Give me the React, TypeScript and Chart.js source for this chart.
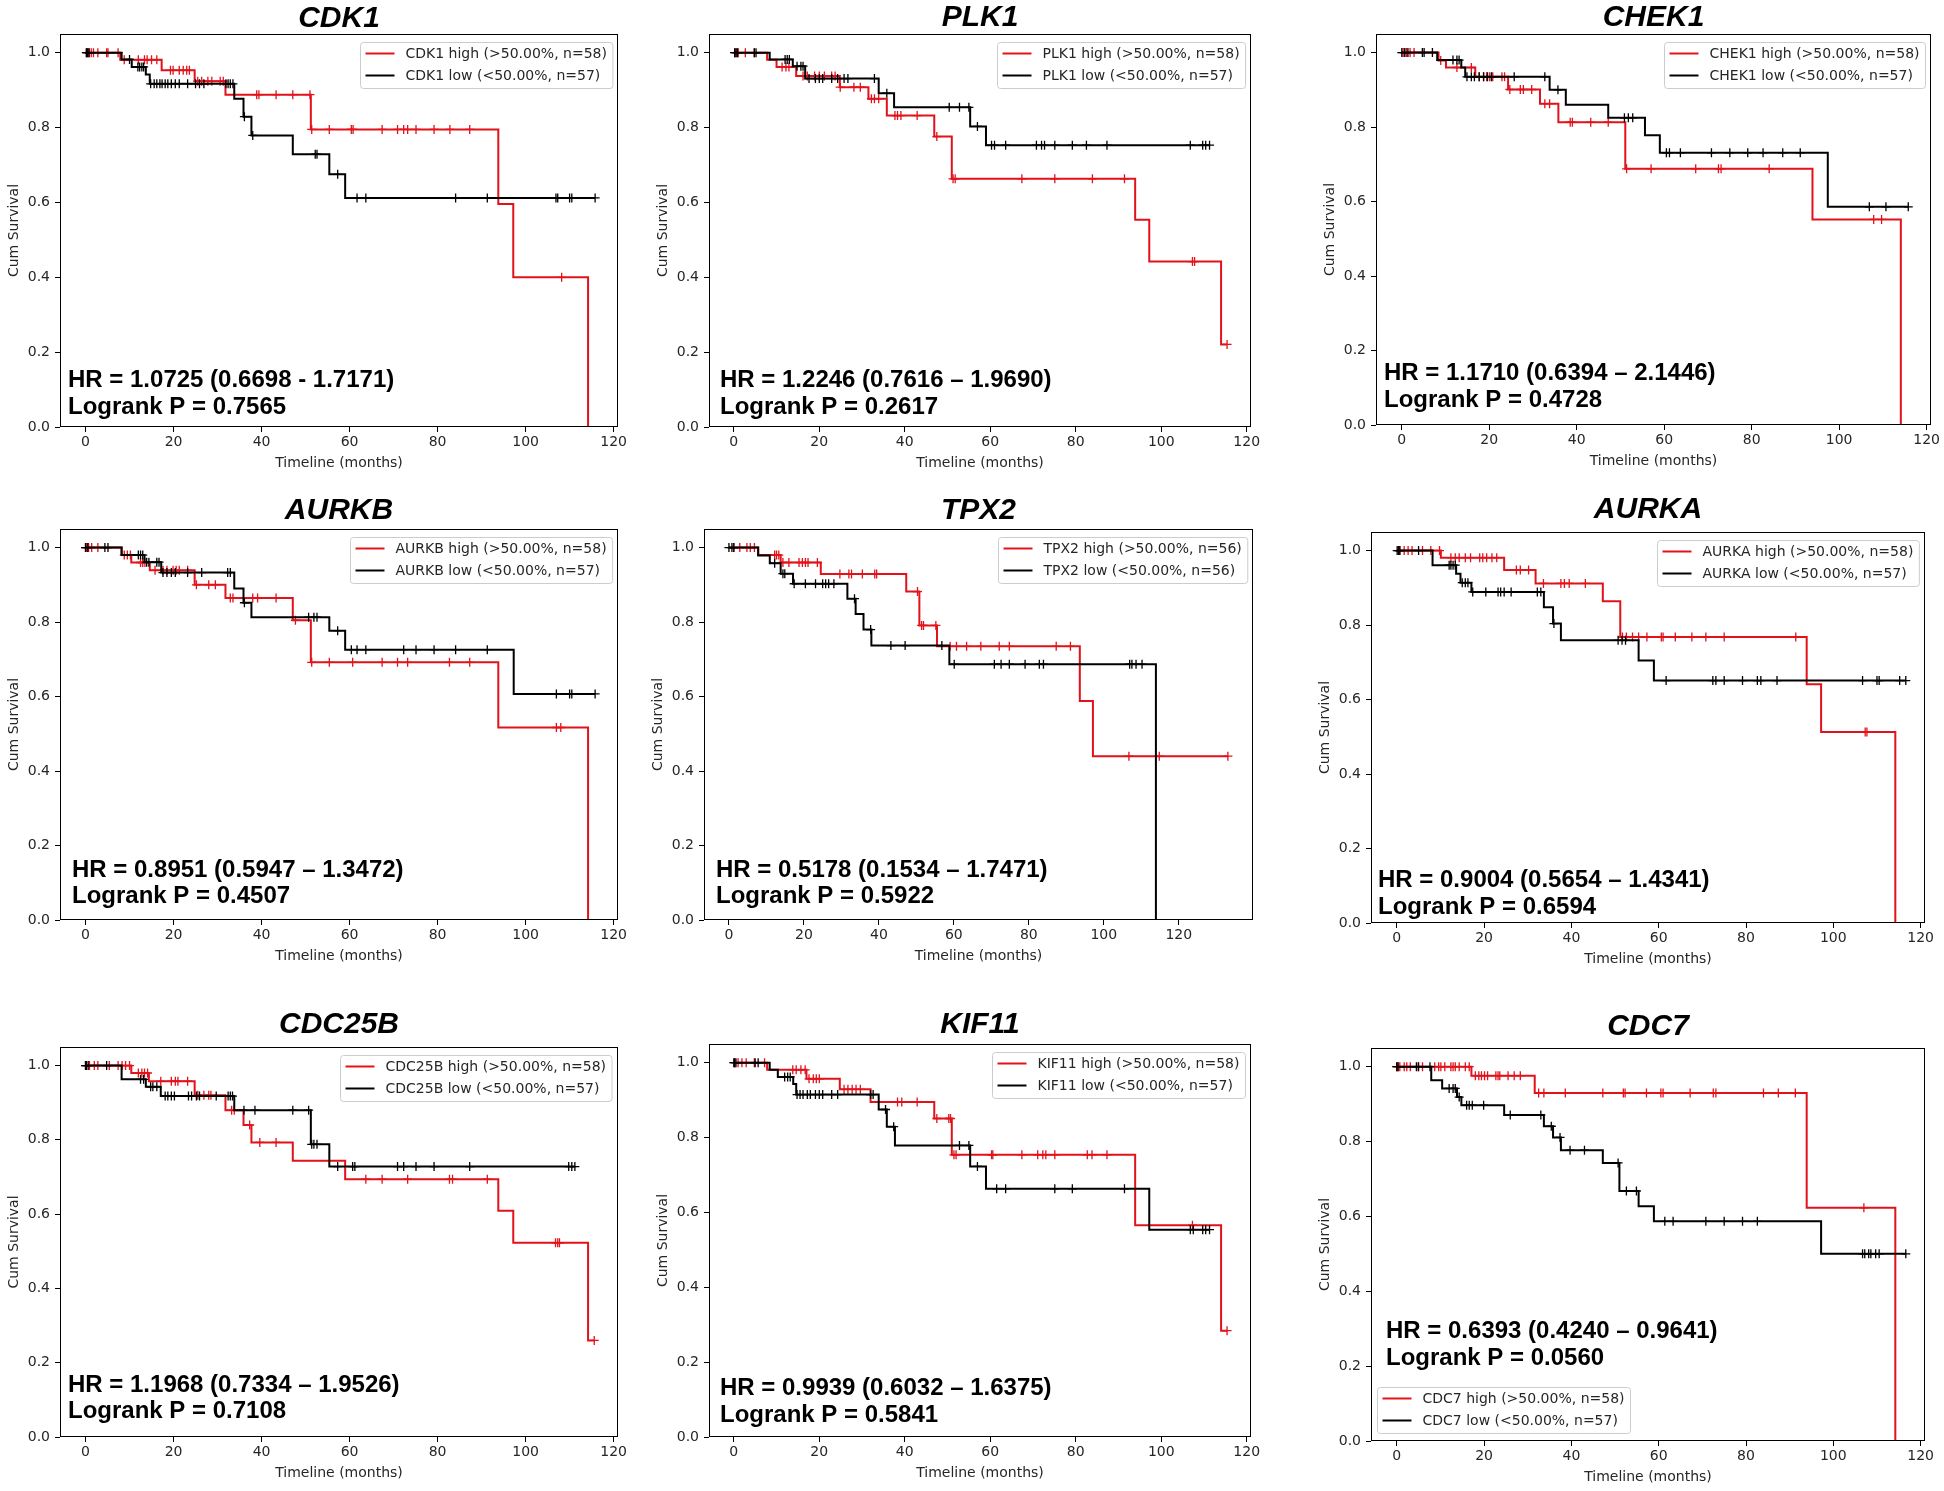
import React, { useEffect, useRef } from 'react';
import { Chart, registerables } from 'chart.js';

Chart.register(...registerables);

// ---------------- data ----------------
const GENES = ['CDK1', 'PLK1', 'CHEK1', 'AURKB', 'TPX2', 'AURKA', 'CDC25B', 'KIF11', 'CDC7'];
const N_HIGH = [58, 58, 58, 58, 56, 58, 58, 58, 58];
const N_LOW = [57, 57, 57, 57, 56, 57, 57, 57, 57];
const HR_LINES = [
  'HR = 1.0725 (0.6698 - 1.7171)',
  'HR = 1.2246 (0.7616 \u2013 1.9690)',
  'HR = 1.1710 (0.6394 \u2013 2.1446)',
  'HR = 0.8951 (0.5947 \u2013 1.3472)',
  'HR = 0.5178 (0.1534 \u2013 1.7471)',
  'HR = 0.9004 (0.5654 \u2013 1.4341)',
  'HR = 1.1968 (0.7334 \u2013 1.9526)',
  'HR = 0.9939 (0.6032 \u2013 1.6375)',
  'HR = 0.6393 (0.4240 \u2013 0.9641)',
];
const LOGRANK_LINES = [
  'Logrank P = 0.7565',
  'Logrank P = 0.2617',
  'Logrank P = 0.4728',
  'Logrank P = 0.4507',
  'Logrank P = 0.5922',
  'Logrank P = 0.6594',
  'Logrank P = 0.7108',
  'Logrank P = 0.5841',
  'Logrank P = 0.0560',
];
const X_TICKS = [0, 20, 40, 60, 80, 100, 120];
const Y_TICKS = [0, 0.2, 0.4, 0.6, 0.8, 1.0];

// event steps: [time (months), survival after the event]
const CDK1_HIGH_STEPS = [[7.9, 0.981], [17.3, 0.953], [24.8, 0.924], [31.8, 0.888], [51.2, 0.795], [93.8, 0.596], [97.2, 0.4], [114.2, 0]];
const CDK1_HIGH_CENSOR = [0.2, 0.5, 0.8, 1.3, 1.8, 2.8, 4.8, 5.1, 7.4, 8.8, 12, 13.4, 14, 15, 16.2, 19.3, 19.9, 21.3, 22.2, 23, 23.6, 25.5, 26.4, 27.8, 28.7, 30.6, 31.3, 38.9, 39.4, 43.3, 47.1, 51.0, 51.4, 55.4, 60.4, 60.8, 67.4, 70.9, 72.3, 73.2, 75.1, 79.2, 82.8, 87.3, 108.2];
const CDK1_LOW_STEPS = [[8.2, 0.982], [10.5, 0.962], [13.7, 0.942], [14.6, 0.917], [33.8, 0.877], [35.9, 0.829], [37.7, 0.779], [47.1, 0.729], [55.4, 0.675], [59.0, 0.612]];
const CDK1_LOW_CENSOR = [0.2, 0.5, 0.8, 10.0, 11.9, 12.3, 12.8, 13.2, 14.8, 15.6, 16.2, 16.9, 17.4, 18.1, 18.7, 19.5, 20.4, 21.3, 23.2, 25, 25.9, 26.9, 31.9, 32.4, 32.9, 33.5, 36.1, 38.0, 52.2, 52.6, 57.3, 61.7, 63.7, 84.1, 91.3, 106.9, 107.3, 110, 110.5, 115.8];

const PLK1_HIGH_STEPS = [[7.8, 0.981], [10.0, 0.962], [14.6, 0.9375], [24.8, 0.908], [31.5, 0.877], [35.8, 0.832], [46.9, 0.776], [51.0, 0.663], [93.9, 0.554], [97.2, 0.442], [114.0, 0.2205]];
const PLK1_HIGH_CENSOR = [0.2, 0.6, 1.0, 2.7, 4.8, 11.3, 12.2, 12.9, 16.2, 17.2, 18.9, 20, 21.2, 22.9, 23.7, 24.9, 28.1, 29.6, 32.2, 32.9, 33.9, 37.7, 38.3, 39.1, 42.9, 47.5, 51.3, 51.8, 67.4, 75.1, 83.9, 91.4, 107.3, 107.8, 115.4];
const PLK1_LOW_STEPS = [[8.4, 0.982], [13.8, 0.964], [16.7, 0.931], [33.9, 0.892], [37.5, 0.854], [55.3, 0.803], [59.0, 0.753]];
const PLK1_LOW_CENSOR = [0.2, 0.5, 0.9, 4.8, 5.2, 12, 12.5, 13, 14.8, 15.7, 16.2, 17.6, 19.1, 20, 20.8, 22.9, 24.3, 25.8, 26.7, 32.9, 35.8, 50.4, 52.8, 55.0, 57, 60.3, 61, 63.6, 70.8, 72, 72.7, 75.1, 79.2, 82.5, 87.3, 106.8, 109.7, 110.4, 111.3];

const CHEK1_HIGH_STEPS = [[8.4, 0.979], [10.1, 0.96], [16.8, 0.935], [24.3, 0.901], [31.6, 0.863], [35.8, 0.813], [51.1, 0.688], [93.9, 0.552], [114.1, 0]];
const CHEK1_HIGH_CENSOR = [0.3, 0.6, 1.1, 1.9, 2.8, 8.9, 12.6, 15.9, 17.7, 18.7, 19.4, 20.1, 20.8, 22.9, 23.5, 24.7, 27.1, 27.8, 29.7, 32.7, 33.8, 38.5, 39, 43.2, 47.2, 51.4, 57, 67.2, 72.4, 73, 84, 107.9, 109.7];
const CHEK1_LOW_STEPS = [[8.1, 0.98], [13.6, 0.96], [14.5, 0.935], [33.8, 0.9], [37.5, 0.86], [47.2, 0.825], [55.6, 0.778], [59.0, 0.731], [97.4, 0.586]];
const CHEK1_LOW_CENSOR = [0, 0.7, 1.4, 4.7, 5.1, 7, 11.7, 12.6, 13.1, 14.9, 15.9, 16.6, 17.7, 18.7, 19.6, 20.5, 25.7, 32.7, 35.7, 50.9, 51.8, 52.8, 60.5, 61.2, 63.7, 70.8, 75, 79.1, 82.6, 87.1, 91.1, 106.9, 110.7, 115.8];

const AURKB_HIGH_STEPS = [[8.2, 0.98], [10.4, 0.96], [14.6, 0.939], [24.8, 0.9], [31.8, 0.865], [47.1, 0.805], [51.2, 0.692], [93.8, 0.517], [114.2, 0]];
const AURKB_HIGH_CENSOR = [0, 0.2, 0.7, 1.4, 2.8, 8.8, 9.5, 10.2, 12.5, 13, 13.5, 15.8, 17.6, 18.5, 19.9, 20.6, 21.3, 23.2, 25.2, 28, 29.5, 32.9, 33.5, 38, 39.1, 43.3, 47.7, 51.4, 55.4, 60.7, 67.4, 70.9, 73.2, 82.7, 87.3, 107, 108];
const AURKB_LOW_STEPS = [[8.2, 0.98], [13.4, 0.961], [17.2, 0.933], [33.8, 0.89], [35.9, 0.852], [37.7, 0.813], [55.4, 0.777], [59.0, 0.726], [97.3, 0.607]];
const AURKB_LOW_CENSOR = [0, 0.5, 4.4, 5.1, 12, 12.5, 13, 13.9, 14.4, 16.2, 16.7, 17.6, 18.5, 19.5, 20.4, 23.2, 26.4, 32.3, 32.9, 36.1, 50.7, 51.9, 52.6, 57.3, 60.4, 61.7, 63.7, 72.3, 75.1, 79.2, 84.1, 91.3, 107, 110, 110.5, 115.8];

const TPX2_HIGH_STEPS = [[7.8, 0.98], [13.8, 0.96], [24.5, 0.929], [47.3, 0.882], [50.8, 0.791], [55.5, 0.735], [93.6, 0.588], [97.1, 0.44]];
const TPX2_HIGH_CENSOR = [1.3, 2.9, 4.8, 5.7, 6.8, 12.2, 12.7, 13.3, 14.4, 16, 18.7, 19.6, 20.4, 21.1, 23.6, 29.6, 32, 32.7, 35.6, 38.9, 39.4, 50.3, 51.4, 51.9, 55.2, 59, 60.7, 63.4, 67.2, 72.1, 74.8, 87.3, 91.1, 106.7, 114.8, 133.1];
const TPX2_LOW_STEPS = [[7.8, 0.979], [10.9, 0.958], [13.8, 0.93], [17.1, 0.903], [31.6, 0.863], [33.8, 0.822], [35.9, 0.78], [38.0, 0.737], [58.8, 0.687], [113.9, 0]];
const TPX2_LOW_CENSOR = [0, 0.8, 1.3, 12.2, 14.4, 14.9, 17.4, 20.4, 23.1, 25, 25.8, 26.6, 28, 33.5, 37.8, 43.2, 47, 56.8, 60.1, 70.8, 72.6, 74.8, 79, 82.8, 83.9, 106.9, 107.5, 108.6, 110.2];

const AURKA_HIGH_STEPS = [[10.1, 0.981], [24.6, 0.948], [31.8, 0.912], [47.2, 0.864], [51.2, 0.768], [93.9, 0.641], [97.2, 0.513], [114.2, 0]];
const AURKA_HIGH_CENSOR = [0.7, 1.7, 2.6, 3.5, 5.9, 7.8, 9.8, 12.4, 13.4, 14.3, 15.7, 16.9, 19, 19.7, 20.6, 21.8, 22.9, 27.4, 28.3, 30.2, 33.6, 37.6, 38.4, 39.5, 43.2, 51.7, 52.6, 54, 55.4, 57.3, 60.6, 61, 63.8, 67.6, 70.8, 75, 91.4, 107.3, 107.7];
const AURKA_LOW_STEPS = [[8.2, 0.961], [13.6, 0.938], [14.6, 0.914], [17.1, 0.889], [33.7, 0.848], [35.8, 0.804], [37.6, 0.759], [55.4, 0.705], [58.9, 0.651]];
const AURKA_LOW_CENSOR = [0.1, 0.4, 0.7, 5, 12, 12.4, 12.9, 13.4, 15, 15.7, 16.3, 17.4, 20.4, 23.2, 23.8, 24.6, 26.2, 32.2, 33, 36, 50.7, 51.6, 52.4, 61.7, 72.4, 73.1, 75, 79.2, 82.6, 83.4, 87.1, 106.7, 110, 110.5, 115.2, 116.6];

const CDC25B_HIGH_STEPS = [[10.4, 0.98], [14.4, 0.958], [24.8, 0.92], [31.8, 0.88], [35.9, 0.84], [37.7, 0.793], [47.1, 0.744], [59.0, 0.694], [93.8, 0.609], [97.2, 0.523], [114.2, 0.26]];
const CDC25B_HIGH_CENSOR = [0, 0.9, 2, 2.8, 5.4, 7.4, 8.3, 9.1, 10, 12, 12.8, 13.4, 14.1, 17.1, 19.5, 20.4, 21, 23.2, 25.5, 26.9, 28, 28.5, 33.2, 33.8, 37.3, 39.6, 43.3, 63.7, 67.4, 73.2, 82.7, 83.4, 91.3, 106.8, 107.3, 107.7, 115.6];
const CDC25B_LOW_STEPS = [[8.2, 0.963], [13.7, 0.943], [17.1, 0.918], [33.8, 0.88], [51.2, 0.788], [55.4, 0.728]];
const CDC25B_LOW_CENSOR = [0, 0.2, 0.6, 4.8, 12.5, 13.2, 14.8, 15.3, 16.2, 18.1, 18.7, 19.5, 20.2, 23.4, 24.1, 25.2, 25.9, 29.7, 32.4, 32.9, 33.4, 36, 38.5, 47.1, 50.7, 51.4, 51.9, 52.6, 57.3, 60.7, 61.2, 70.9, 72.3, 75.1, 79.2, 87.3, 109.8, 110.5, 111.2];

const KIF11_HIGH_STEPS = [[7.8, 0.981], [17.0, 0.957], [24.8, 0.929], [32.0, 0.895], [46.9, 0.851], [51.0, 0.754], [93.9, 0.566], [114.0, 0.284]];
const KIF11_HIGH_CENSOR = [0.2, 1, 1.9, 2.9, 4.8, 7.2, 13.8, 14.6, 15.7, 16.7, 17.6, 18.6, 19.3, 20, 25.8, 26.7, 27.7, 28.6, 29.6, 38.3, 39.3, 42.9, 47.5, 50.3, 50.7, 51.5, 52, 60.3, 60.6, 67.4, 71.1, 72.3, 73, 75.1, 82.7, 83.8, 87.3, 107.3, 115.4];
const KIF11_LOW_STEPS = [[8.4, 0.981], [10.3, 0.962], [13.9, 0.943], [14.6, 0.915], [33.9, 0.875], [35.8, 0.829], [37.7, 0.779], [55.3, 0.723], [59.0, 0.663], [97.2, 0.554]];
const KIF11_LOW_CENSOR = [0, 0.2, 0.5, 5, 5.7, 11.9, 12.6, 13.2, 14.8, 15.5, 16.2, 17.2, 17.9, 19.1, 20, 20.8, 22.9, 24.3, 32, 32.6, 35.5, 37.4, 52.8, 55.0, 57, 61.5, 63.6, 75.1, 79.2, 91.4, 106.8, 107.5, 109.7, 110.4, 111.3];

const CDC7_HIGH_STEPS = [[17.1, 0.976], [31.6, 0.93], [93.9, 0.623], [114.2, 0]];
const CDC7_HIGH_CENSOR = [0, 0.3, 0.7, 1.7, 2.3, 3.1, 4.9, 5.9, 8.7, 9.6, 10.1, 11, 12.4, 12.9, 13.4, 14.3, 15.7, 16.6, 18, 18.8, 19.4, 20.1, 20.8, 22.7, 23.2, 23.6, 25.5, 26.9, 28.3, 32.5, 33.7, 38.6, 47.2, 51.9, 52.3, 57.2, 60.5, 61, 67.2, 72.5, 73.1, 84, 87.4, 91.3, 107];
const CDC7_LOW_STEPS = [[7.9, 0.964], [10.4, 0.942], [13.8, 0.919], [14.8, 0.897], [24.6, 0.871], [33.7, 0.841], [35.8, 0.811], [37.6, 0.777], [47.2, 0.743], [51.0, 0.668], [55.4, 0.627], [58.9, 0.587], [97.2, 0.5]];
const CDC7_LOW_CENSOR = [0, 0.3, 4.5, 5, 7.6, 12, 12.9, 13.4, 14.3, 16, 16.6, 17.3, 19.9, 26, 33, 35.4, 37.4, 39.7, 43, 50.7, 52.6, 54.9, 61.4, 63.3, 70.8, 75, 79.2, 82.6, 106.7, 107.2, 108.1, 108.6, 109.7, 110.5, 116.6];

const HIGH_STEPS = [CDK1_HIGH_STEPS, PLK1_HIGH_STEPS, CHEK1_HIGH_STEPS, AURKB_HIGH_STEPS, TPX2_HIGH_STEPS, AURKA_HIGH_STEPS, CDC25B_HIGH_STEPS, KIF11_HIGH_STEPS, CDC7_HIGH_STEPS];
const HIGH_CENSOR = [CDK1_HIGH_CENSOR, PLK1_HIGH_CENSOR, CHEK1_HIGH_CENSOR, AURKB_HIGH_CENSOR, TPX2_HIGH_CENSOR, AURKA_HIGH_CENSOR, CDC25B_HIGH_CENSOR, KIF11_HIGH_CENSOR, CDC7_HIGH_CENSOR];
const LOW_STEPS = [CDK1_LOW_STEPS, PLK1_LOW_STEPS, CHEK1_LOW_STEPS, AURKB_LOW_STEPS, TPX2_LOW_STEPS, AURKA_LOW_STEPS, CDC25B_LOW_STEPS, KIF11_LOW_STEPS, CDC7_LOW_STEPS];
const LOW_CENSOR = [CDK1_LOW_CENSOR, PLK1_LOW_CENSOR, CHEK1_LOW_CENSOR, AURKB_LOW_CENSOR, TPX2_LOW_CENSOR, AURKA_LOW_CENSOR, CDC25B_LOW_CENSOR, KIF11_LOW_CENSOR, CDC7_LOW_CENSOR];

// ---------------- layout / style ----------------
const PANEL_BOXES = [
  [60, 34, 618, 427], [709, 34, 1251, 427], [1376, 34, 1931, 425],
  [60, 529, 618, 920], [704, 529, 1253, 920], [1371, 532, 1925, 923],
  [60, 1047, 618, 1437], [709, 1044, 1251, 1437], [1371, 1048, 1925, 1441],
];
const X_RANGES = [[-5.8, 121], [-5.8, 121], [-5.9, 121], [-5.8, 121], [-6.65, 139.8], [-5.9, 121], [-5.8, 121], [-5.8, 121], [-5.9, 121]];
const TITLE_GAP = [7, 8, 8, 10, 10, 14, 14, 11, 13];
const HR_POS = [[8, 40, 13], [11, 40, 13], [8, 45, 18], [12, 43, 17], [12, 43, 17], [7, 36, 9], [8, 45, 19], [11, 42, 15], [15, 103, 76]];
const LEGEND_CORNER = ['tr', 'tr', 'tr', 'tr', 'tr', 'tr', 'tr', 'tr', 'bl'];

const RED = '#e2121b';
const BLACK = '#000000';
const Y_AXIS_W = 60;
const X_AXIS_H = 50;
const PAD_R = 14;
const TEXT_COLOR = '#262626';
const FONT = '"DejaVu Sans", sans-serif';

function survAt(steps: number[][], t: number): number {
  let s = 1;
  for (const [et, es] of steps) {
    if (et <= t) s = es;
    else break;
  }
  return s;
}

function curvePoints(steps: number[][], censor: number[]) {
  const pts = [{ x: 0, y: 1 }];
  for (const [t, s] of steps) pts.push({ x: t, y: s });
  const last = steps[steps.length - 1];
  const tEnd = Math.max(last[0], ...censor);
  if (tEnd > last[0]) pts.push({ x: tEnd, y: last[1] });
  return pts;
}

function censorPoints(steps: number[][], censor: number[]) {
  return censor.map((t) => ({ x: t, y: survAt(steps, t) }));
}

const kmDecor = {
  id: 'kmDecor',
  afterDraw(chart: any, _args: any, opts: any) {
    const ctx: CanvasRenderingContext2D = chart.ctx;
    const a = chart.chartArea;
    ctx.save();
    // frame
    ctx.strokeStyle = '#000';
    ctx.lineWidth = 1;
    const l = Math.round(a.left) + 0.5;
    const t = Math.round(a.top) + 0.5;
    const r = Math.round(a.right) - 0.5;
    const b = Math.round(a.bottom) - 0.5;
    ctx.strokeRect(l, t, r - l, b - t);

    // title
    ctx.fillStyle = '#000';
    ctx.textBaseline = 'alphabetic';
    ctx.textAlign = 'center';
    ctx.font = 'italic bold 30px "Liberation Sans", Arial, sans-serif';
    ctx.fillText(opts.title, (a.left + a.right) / 2, a.top - opts.titleGap);

    // HR / logrank text
    ctx.textAlign = 'left';
    ctx.font = 'bold 24px "Liberation Sans", Arial, sans-serif';
    ctx.fillText(opts.hr, a.left + opts.hrPos[0], a.bottom - opts.hrPos[1]);
    ctx.fillText(opts.logrank, a.left + opts.hrPos[0], a.bottom - opts.hrPos[2]);

    // legend
    ctx.font = '14px ' + FONT;
    const labels: string[] = opts.labels;
    const colors: string[] = opts.colors;
    const tw = Math.max(...labels.map((s) => ctx.measureText(s).width));
    const bw = 45 + tw + 6;
    const bh = 46;
    let bx: number;
    let by: number;
    if (opts.corner === 'bl') {
      bx = a.left + 6;
      by = a.bottom - 8 - bh;
    } else {
      bx = a.right - 6 - bw;
      by = a.top + 8;
    }
    bx = Math.round(bx) + 0.5;
    by = Math.round(by) + 0.5;
    ctx.beginPath();
    (ctx as any).roundRect(bx, by, bw, bh, 3);
    ctx.fillStyle = 'rgba(255,255,255,0.8)';
    ctx.fill();
    ctx.strokeStyle = '#cccccc';
    ctx.lineWidth = 1;
    ctx.stroke();
    labels.forEach((lab, i) => {
      const yy = by + 11 + 22 * i;
      ctx.beginPath();
      ctx.moveTo(bx + 5, yy);
      ctx.lineTo(bx + 34, yy);
      ctx.strokeStyle = colors[i];
      ctx.lineWidth = 2;
      ctx.stroke();
      ctx.fillStyle = TEXT_COLOR;
      ctx.textBaseline = 'middle';
      ctx.textAlign = 'left';
      ctx.fillText(lab, bx + 45, yy + 1);
    });
    ctx.restore();
  },
};

function Panel({ idx }: { idx: number }) {
  const ref = useRef<HTMLCanvasElement>(null);
  const [L, T, R, B] = PANEL_BOXES[idx];
  const cLeft = L - Y_AXIS_W;
  const cTop = Math.max(0, T - 46);
  const width = R + PAD_R - cLeft;
  const height = B + X_AXIS_H - cTop;
  const padTop = T - cTop;

  useEffect(() => {
    const gene = GENES[idx];
    const hiLabel = `${gene} high (>50.00%, n=${N_HIGH[idx]})`;
    const loLabel = `${gene} low (<50.00%, n=${N_LOW[idx]})`;
    const tickFont = { family: FONT, size: 14 };
    const chart = new Chart(ref.current as HTMLCanvasElement, {
      type: 'scatter',
      data: {
        datasets: [
          {
            label: loLabel + ' censored',
            data: censorPoints(LOW_STEPS[idx], LOW_CENSOR[idx]),
            showLine: false,
            pointStyle: 'cross',
            pointRadius: 4.5,
            pointHoverRadius: 4.5,
            pointBorderColor: BLACK,
            pointBackgroundColor: BLACK,
            pointBorderWidth: 1.3,
          },
          {
            label: loLabel,
            data: curvePoints(LOW_STEPS[idx], LOW_CENSOR[idx]),
            showLine: true,
            stepped: 'before',
            borderColor: BLACK,
            borderWidth: 2,
            pointRadius: 0,
            pointHoverRadius: 0,
            fill: false,
          },
          {
            label: hiLabel + ' censored',
            data: censorPoints(HIGH_STEPS[idx], HIGH_CENSOR[idx]),
            showLine: false,
            pointStyle: 'cross',
            pointRadius: 4.5,
            pointHoverRadius: 4.5,
            pointBorderColor: RED,
            pointBackgroundColor: RED,
            pointBorderWidth: 1.3,
          },
          {
            label: hiLabel,
            data: curvePoints(HIGH_STEPS[idx], HIGH_CENSOR[idx]),
            showLine: true,
            stepped: 'before',
            borderColor: RED,
            borderWidth: 2,
            pointRadius: 0,
            pointHoverRadius: 0,
            fill: false,
          },
        ] as any,
      },
      options: {
        responsive: false,
        animation: false,
        devicePixelRatio: 1,
        events: [],
        layout: { padding: { left: 0, top: padTop, right: PAD_R, bottom: 0 } },
        plugins: {
          legend: { display: false },
          tooltip: { enabled: false },
          title: { display: false },
          kmDecor: {
            title: gene,
            titleGap: TITLE_GAP[idx],
            hr: HR_LINES[idx],
            logrank: LOGRANK_LINES[idx],
            hrPos: HR_POS[idx],
            labels: [hiLabel, loLabel],
            colors: [RED, BLACK],
            corner: LEGEND_CORNER[idx],
          },
        } as any,
        scales: {
          x: {
            type: 'linear',
            min: X_RANGES[idx][0],
            max: X_RANGES[idx][1],
            afterBuildTicks: (s: any) => {
              s.ticks = X_TICKS.map((v) => ({ value: v }));
            },
            afterFit: (s: any) => {
              s.height = X_AXIS_H;
            },
            grid: { display: true, drawOnChartArea: false, drawTicks: true, tickLength: 5, tickColor: '#000', tickWidth: 1 },
            border: { display: false },
            ticks: {
              font: tickFont,
              color: TEXT_COLOR,
              padding: 2,
              maxRotation: 0,
              autoSkip: false,
              callback: (v: any) => String(v),
            },
            title: {
              display: true,
              text: 'Timeline (months)',
              font: tickFont,
              color: TEXT_COLOR,
              padding: { top: 0, bottom: 5 },
            },
          },
          y: {
            type: 'linear',
            min: 0,
            max: 1.05,
            afterBuildTicks: (s: any) => {
              s.ticks = Y_TICKS.map((v) => ({ value: v }));
            },
            afterFit: (s: any) => {
              s.width = Y_AXIS_W;
            },
            grid: { display: true, drawOnChartArea: false, drawTicks: true, tickLength: 5, tickColor: '#000', tickWidth: 1 },
            border: { display: false },
            ticks: {
              font: tickFont,
              color: TEXT_COLOR,
              padding: 5,
              autoSkip: false,
              callback: (v: any) => Number(v).toFixed(1),
            },
            title: {
              display: true,
              text: 'Cum Survival',
              font: tickFont,
              color: TEXT_COLOR,
              padding: { top: 6, bottom: 0 },
            },
          },
        } as any,
      },
      plugins: [kmDecor as any],
    });
    return () => chart.destroy();
  }, [idx]);

  return (
    <canvas
      ref={ref}
      width={width}
      height={height}
      style={{ position: 'absolute', left: cLeft, top: cTop, width, height }}
    />
  );
}

export default function App() {
  return (
    <div
      style={{
        position: 'absolute',
        left: 0,
        top: 0,
        width: 1944,
        height: 1491,
        overflow: 'hidden',
        background: '#ffffff',
      }}
    >
      {GENES.map((g, i) => (
        <Panel key={g} idx={i} />
      ))}
    </div>
  );
}
